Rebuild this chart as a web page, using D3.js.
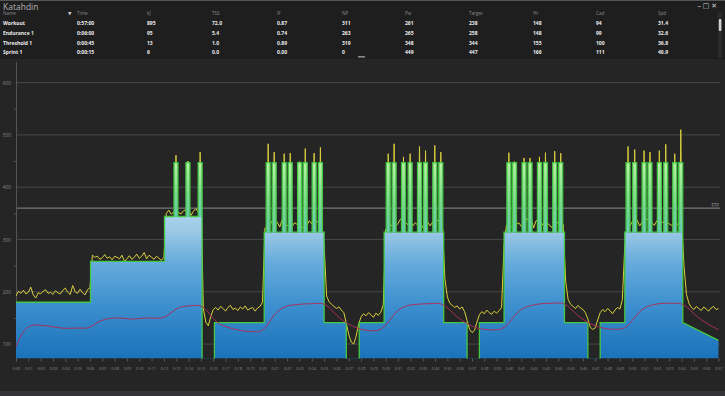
<!DOCTYPE html>
<html>
<head>
<meta charset="utf-8">
<script src="https://cdn.jsdelivr.net/npm/d3@7"></script>
<style>
  body { margin: 0; background: #252526; overflow: hidden; }
  text { font-family: "Open Sans", "DejaVu Sans", sans-serif; }
</style>
</head>
<body>
<svg id="chart" width="725" height="396"></svg>
<script>
// table at the top
const columns = ["Name", "Time", "kJ", "TSS", "IF", "NP", "Pw", "Target", "Hr", "Cad", "Spd"];
const columnX = [3, 77, 147, 212, 277, 342, 405, 469, 533, 596, 658];
const rowWorkout = ["Workout", "0:57:00", "895", "72.0", "0.87", "311", "261", "238", "148", "94", "31.4"];
const rowEndurance = ["Endurance 1", "0:06:00", "95", "5.4", "0.74", "263", "265", "258", "148", "99", "32.6"];
const rowThreshold = ["Threshold 1", "0:00:45", "13", "1.0", "0.89", "319", "348", "344", "155", "100", "36.8"];
const rowSprint = ["Sprint 1", "0:00:15", "6", "0.0", "0.00", "0", "449", "447", "166", "111", "40.9"];

// target steps: [start min, end min, watts]  (0 = free ride, no target)
const targetSteps = [
  [0, 6.05, 180], [6.05, 12.05, 258], [12.05, 15.1, 344], [15.1, 16.1, 0],
  [16.1, 20.14, 141], [20.14, 25.0, 314], [25.0, 26.8, 141], [26.8, 27.85, 0],
  [27.85, 29.87, 141], [29.87, 34.7, 314], [34.7, 36.6, 141], [36.6, 37.6, 0],
  [37.6, 39.6, 141], [39.6, 44.5, 314], [44.5, 46.4, 141], [46.4, 47.4, 0],
  [47.4, 49.4, 141], [49.4, 54.1, 314]
];
const cooldownRamp = [[54.1, 141], [57, 107]];
const sprintTarget = 447;
const sprintHalf = 0.16;
const sprintCenters = [
  12.98, 13.95, 14.94,
  20.46, 20.95, 21.76, 22.25, 23.01, 23.47, 24.19, 24.70,
  30.20, 30.68, 31.44, 31.98, 32.74, 33.23, 33.98, 34.47,
  39.99, 40.45, 41.22, 41.71, 42.47, 42.96, 43.71, 44.20,
  49.66, 50.20, 50.96, 51.44, 52.20, 52.72, 53.45, 53.94
];
const sprintPeaks = [
  461, 450, 467,
  483, 467, 464, 465, 449, 474, 465, 476,
  464, 483, 458, 464, 478, 470, 480, 467,
  466, 449, 456, 456, 458, 466, 469, 465,
  478, 472, 470, 467, 470, 482, 464, 510
];

// actual power, one sample every 0.2 min
const powerStep = 0.2;
const powerSamples = [
  // 0:00 - 0:06
  192, 201, 197, 203, 196, 199, 209, 194, 188, 198, 196, 201, 204, 197, 199, 195,
  202, 198, 196, 203, 207, 199, 195, 212, 200, 197, 205, 198, 194, 204, 207,
  // 0:06 - 0:12
  270, 266, 268, 262, 265, 271, 264, 267, 261, 268, 266, 263, 270, 258, 263,
  269, 262, 266, 272, 264, 268, 275, 263, 270, 266, 262, 268, 264, 260, 266,
  // 0:12 - 0:15
  350, 356, 348, 353, 358, 351, 349, 355, 357, 350, 346, 354, 359, 352, 356,
  168, 142, 135, 152, 166,
  // 0:16 - 0:20
  170, 165, 172, 168, 163, 170, 174, 166, 169, 164, 171, 167, 173, 165, 168,
  170, 163, 169, 172, 180,
  // 0:20 - 0:25
  322, 331, 328, 336, 326, 333, 324, 338, 330, 327, 335, 325, 332, 329, 340,
  323, 331, 327, 336, 330, 325, 334, 328, 332,
  290, 192, 181, 176, 172, 168, 171, 165, 160,
  140, 118, 104, 100, 115, 138,
  // 0:28 - 0:30
  152, 158, 154, 160, 156, 151, 159, 155, 161, 175,
  // 0:30 - 0:35
  320, 330, 327, 335, 325, 331, 339, 324, 333, 328, 336, 326, 332, 327, 338,
  323, 330, 334, 326, 333, 328, 336, 325, 331,
  225, 190, 178, 174, 170, 173, 167, 171, 162,
  145, 128, 122, 126, 142,
  // 0:37 - 0:40
  156, 162, 158, 165, 160, 157, 163, 159, 164, 170,
  290,
  // 0:40 - 0:44
  328, 333, 324, 337, 329, 332, 325, 334, 339, 327, 331, 322, 336, 328, 333,
  326, 338, 330, 324, 334, 327, 332, 337, 329,
  220, 185, 176, 172, 168, 174, 169, 166, 160,
  148, 132, 128, 131, 146,
  // 0:47 - 0:49
  160, 166, 162, 168, 164, 158, 165, 170, 167, 185,
  290,
  // 0:50 - 0:54
  330, 325, 334, 328, 337, 326, 333, 330, 338, 324, 332, 327, 336, 328, 333,
  325, 339, 330, 327, 334, 328, 331, 336,
  250, 195, 178,
  // cool down
  170, 166, 172, 168, 164, 171, 167, 163, 169, 172, 166, 168
];

// heart rate, one sample every 0.5 min
const hrStep = 0.5;
const hrSamples = [
  95, 122, 134, 137, 136, 135, 133, 131, 130, 130, 131, 130, 131,
  140, 146, 149, 150, 150, 149, 147, 149, 150, 150, 149, 150,
  158, 168, 172, 173, 174, 174, 165, 148, 138, 133, 130, 127, 125, 124, 123, 124,
  140, 158, 168, 173, 175, 176, 177, 177, 178, 178, 168, 155, 145, 138, 132, 128, 126, 125, 126,
  135, 152, 165, 172, 175, 176, 177, 177, 178, 178, 170, 158, 148, 140, 134, 130, 128, 127, 127, 129,
  140, 156, 167, 172, 175, 177, 178, 178, 179, 178, 168, 156, 147, 140, 135, 131, 129, 128, 128, 131,
  145, 160, 170, 174, 177, 178, 178, 178, 178, 170, 158, 148, 140, 133, 128
];

const yTicks = [100, 200, 300, 400, 500, 600];
const yMinorTicks = [150, 250, 350, 450, 550];
const ftp = 360;

const svg = d3.select("#chart");
const W = 725, H = 396;
const plotLeft = 16, plotRight = 718.5, plotTop = 61.7, plotBottom = 358.5;

// ---------- header / table ----------
svg.append("rect").attr("x", 0).attr("y", 0).attr("width", W).attr("height", 59).attr("fill", "#1e1e1f");
svg.append("rect").attr("x", 0).attr("y", 0).attr("width", W).attr("height", 1).attr("fill", "#555");
svg.append("text").attr("x", 3).attr("y", 9.5).attr("font-size", 8.5).attr("fill", "#b4b4b4").text("Katahdin");
svg.append("text").attr("x", 717).attr("y", 8).attr("font-size", 7).attr("text-anchor", "end")
  .attr("fill", "#cfcfcf").text("\u2013 \u25A1 \u2715");

svg.selectAll(".colhead")
  .data(columns)
  .enter()
  .append("text")
  .attr("class", "colhead")
  .attr("x", (d, i) => columnX[i])
  .attr("y", 14)
  .attr("dominant-baseline", "middle")
  .attr("font-size", 4.6)
  .attr("fill", "#8a8a8a")
  .text(d => d);
svg.append("text").attr("x", 68).attr("y", 14).attr("dominant-baseline", "middle")
  .attr("font-size", 4.5).attr("fill", "#cccccc").text("\u25BC");

const rows = [rowWorkout, rowEndurance, rowThreshold, rowSprint];
const rowY = [24, 33.7, 43.3, 53];
rows.forEach((row, r) => {
  svg.selectAll(".row" + r)
    .data(row)
    .enter()
    .append("text")
    .attr("x", (d, i) => columnX[i])
    .attr("y", rowY[r])
    .attr("dominant-baseline", "middle")
    .attr("font-size", 5)
    .attr("font-weight", "bold")
    .attr("fill", "#ececec")
    .text(d => d);
});

// scrollbar + splitter grip
svg.append("rect").attr("x", 718).attr("y", 12).attr("width", 4).attr("height", 46).attr("fill", "#2a2a2b");
svg.append("rect").attr("x", 718.8).attr("y", 19).attr("width", 2.6).attr("height", 12).attr("rx", 1).attr("fill", "#d0d0d0");
svg.append("rect").attr("x", 358).attr("y", 56).attr("width", 7).attr("height", 1.6).attr("fill", "#8a8a8a");

// ---------- scales ----------
const x = d3.scaleLinear().domain([0, 57]).range([plotLeft, plotRight]);
const y = d3.scaleLinear().domain([72.4, 640]).range([plotBottom, plotTop]);

// grid
svg.selectAll(".grid")
  .data(yTicks)
  .enter()
  .append("line")
  .attr("x1", plotLeft).attr("x2", 720)
  .attr("y1", d => y(d)).attr("y2", d => y(d))
  .attr("stroke", "#474748")
  .attr("stroke-width", 1);

svg.append("line")
  .attr("x1", plotLeft).attr("x2", 720)
  .attr("y1", y(ftp)).attr("y2", y(ftp))
  .attr("stroke", "#8c8c8c").attr("stroke-width", 1);
svg.append("text").attr("x", 719).attr("y", y(ftp) - 1.5).attr("text-anchor", "end")
  .attr("font-size", 4.5).attr("fill", "#9a9a9a").text("FTP");

// y axis
const yAxis = svg.append("g").attr("transform", `translate(${plotLeft},0)`)
  .call(d3.axisLeft(y).tickValues(yTicks).tickSize(0).tickPadding(5));
yAxis.select(".domain").attr("stroke", "#555");
yAxis.selectAll("text").attr("font-size", 4.8).attr("fill", "#8a8a8a");
svg.append("g").attr("transform", `translate(${plotLeft},0)`)
  .call(d3.axisLeft(y).tickValues(yMinorTicks).tickSize(2).tickFormat(""))
  .call(g => g.select(".domain").remove())
  .selectAll("line").attr("stroke", "#555");

// x axis
const xAxis = svg.append("g").attr("transform", `translate(0,${plotBottom})`)
  .call(d3.axisBottom(x).tickValues(d3.range(0, 58)).tickSize(3).tickPadding(6)
    .tickFormat(d => "0:" + String(d).padStart(2, "0")));
xAxis.select(".domain").remove();
xAxis.selectAll("line").attr("stroke", "#5a5a5a");
xAxis.selectAll("text").attr("font-size", 3.8).attr("fill", "#8a8a8a");

// bottom border
svg.append("rect").attr("x", 0).attr("y", 391).attr("width", W).attr("height", 5).attr("fill", "#333335");

// ---------- target data ----------
function stepAt(t) {
  for (const s of targetSteps) if (t >= s[0] && t < s[1]) return s[2];
  return 0;
}
function targetAt(t) {
  for (const c of sprintCenters) if (t > c - sprintHalf && t < c + sprintHalf) return sprintTarget;
  return stepAt(t);
}
function stepPoints(withSprints) {
  let breaks = [];
  targetSteps.forEach(s => breaks.push(s[0], s[1]));
  if (withSprints) sprintCenters.forEach(c => breaks.push(c - sprintHalf, c + sprintHalf));
  breaks = Array.from(new Set(breaks.map(b => +b.toFixed(4)))).sort((a, b) => a - b);
  const pts = [];
  for (let i = 0; i < breaks.length - 1; i++) {
    const mid = (breaks[i] + breaks[i + 1]) / 2;
    const v = withSprints ? targetAt(mid) : stepAt(mid);
    pts.push([breaks[i], v], [breaks[i + 1], v]);
  }
  cooldownRamp.forEach(p => pts.push(p));
  return pts;
}
const areaPts = stepPoints(false);
const targetPts = stepPoints(true);

// actual power points with sprint needles
const baseSamples = powerSamples.map((v, i) => [i * powerStep, v]);
let powerPts = baseSamples.filter(p => !sprintCenters.some(c => Math.abs(p[0] - c) < 0.12));
sprintCenters.forEach((c, i) => {
  const near = baseSamples[Math.round((c - 0.3) / powerStep)][1];
  const after = baseSamples[Math.min(baseSamples.length - 1, Math.round((c + 0.3) / powerStep))][1];
  powerPts.push([c - 0.09, near], [c, sprintPeaks[i]], [c + 0.09, Math.max(after, near)]);
});
powerPts.sort((a, b) => a[0] - b[0]);

const hrPts = hrSamples.map((v, i) => [i * hrStep, v]);

// clip
const defs = svg.append("defs");
defs.append("clipPath").attr("id", "plot")
  .append("rect").attr("x", plotLeft).attr("y", plotTop).attr("width", plotRight - plotLeft + 1).attr("height", plotBottom - plotTop);

// blue gradient for the target area (absolute position)
const grad = defs.append("linearGradient")
  .attr("id", "tgrad").attr("gradientUnits", "userSpaceOnUse")
  .attr("x1", 0).attr("x2", 0).attr("y1", y(344)).attr("y2", plotBottom);
const stops = [[344, "#a8d1eb"], [314, "#9ac8e6"], [258, "#68acdc"], [180, "#3f91cf"], [72.4, "#1a72ba"]];
stops.forEach(s => {
  grad.append("stop")
    .attr("offset", (y(s[0]) - y(344)) / (plotBottom - y(344)))
    .attr("stop-color", s[1]);
});
// green gradient for the sprint bars
const sgrad = defs.append("linearGradient").attr("id", "sgrad")
  .attr("x1", 0).attr("x2", 0).attr("y1", 0).attr("y2", 1);
sgrad.append("stop").attr("offset", 0).attr("stop-color", "#b8f0a4");
sgrad.append("stop").attr("offset", 0.55).attr("stop-color", "#7fda8e");
sgrad.append("stop").attr("offset", 1).attr("stop-color", "#66c6b4");

const plot = svg.append("g").attr("clip-path", "url(#plot)");

// power line under the target area
plot.append("path")
  .datum(powerPts)
  .attr("fill", "none")
  .attr("stroke", "#d9cf3c")
  .attr("stroke-width", 1)
  .attr("d", d3.line().x(d => x(d[0])).y(d => y(d[1])));

plot.append("path")
  .datum(areaPts)
  .attr("fill", "url(#tgrad)")
  .attr("d", d3.area().x(d => x(d[0])).y0(plotBottom).y1(d => y(d[1])));

plot.selectAll(".sprint")
  .data(sprintCenters)
  .enter()
  .append("rect")
  .attr("class", "sprint")
  .attr("x", d => x(d - sprintHalf))
  .attr("width", d => x(d + sprintHalf) - x(d - sprintHalf))
  .attr("y", y(sprintTarget))
  .attr("height", d => y(stepAt(d)) - y(sprintTarget) + 0.5)
  .attr("fill", "url(#sgrad)");

plot.append("path")
  .datum(targetPts)
  .attr("fill", "none")
  .attr("stroke", "#44c844")
  .attr("stroke-width", 1.3)
  .attr("d", d3.line().x(d => x(d[0])).y(d => y(d[1])));

// heart rate
plot.append("path")
  .datum(hrPts)
  .attr("fill", "none")
  .attr("stroke", "#a8325a")
  .attr("stroke-width", 1)
  .attr("d", d3.line().curve(d3.curveBasis).x(d => x(d[0])).y(d => y(d[1])));
</script>
</body>
</html>
